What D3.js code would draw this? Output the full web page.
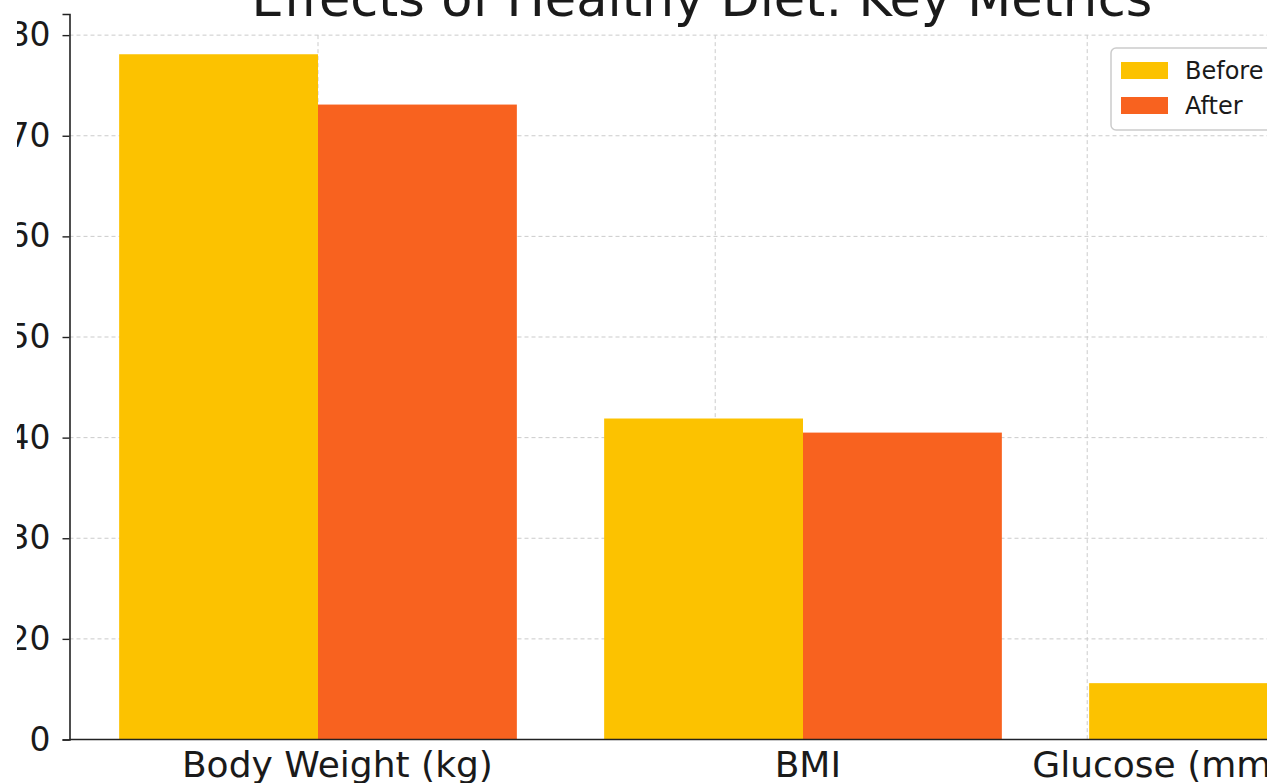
<!DOCTYPE html>
<html>
<head>
<meta charset="utf-8">
<script src="https://cdn.jsdelivr.net/npm/d3@7"></script>
<style>
  body { margin: 0; background: #fff; }
  svg { display: block; font-family: "DejaVu Sans", sans-serif; }
</style>
</head>
<body>
<svg id="chart" width="1267" height="783"></svg>
<script>
// data
var categories = ["Body Weight (kg)", "BMI", "Glucose (mmol/L)"];
var before = [68.1, 31.9, 5.6];
var after = [63.1, 30.5, 5.2];
var tickValues = [0, 10, 20, 30, 40, 50, 60, 70];
var tickLabels = ["0", "20", "30", "40", "50", "60", "70", "80"];
var seriesNames = ["Before", "After"];
var colors = ["#fcc200", "#f8621f"];
// where the vertical grid lines and category labels sit, in category units
var gridX = [0, 0.819, 1.586];
var labelX = [0.04, 1.01, 1.80];

var svg = d3.select("#chart");
var W = 1267, H = 783;

var x = d3.scaleLinear().domain([0, 1]).range([318, 803]);
var y = d3.scaleLinear().domain([0, 72.1]).range([739.5, 14]);
var barW = x(0.41) - x(0);
var left = 69.5;

// the reference is cropped at the left, the first digits are cut
svg.append("defs").append("clipPath").attr("id", "leftcut")
  .append("rect").attr("x", 17).attr("y", 0).attr("width", W).attr("height", H);

// grid
var grid = svg.append("g").attr("stroke", "#cbcbcb").attr("stroke-width", 1)
  .attr("stroke-dasharray", "4,3");
grid.selectAll("line.h").data(tickValues.slice(1)).enter().append("line")
  .attr("x1", left).attr("x2", W)
  .attr("y1", function(d) { return y(d); }).attr("y2", function(d) { return y(d); });
grid.selectAll("line.v").data(gridX).enter().append("line")
  .attr("x1", function(d) { return x(d); }).attr("x2", function(d) { return x(d); })
  .attr("y1", y(70)).attr("y2", y(0));

// bars
var series = [before, after];
series.forEach(function(vals, s) {
  svg.append("g").attr("fill", colors[s])
    .selectAll("rect").data(vals).enter().append("rect")
    .attr("x", function(d, i) { return s === 0 ? x(i) - barW : x(i); })
    .attr("width", barW)
    .attr("y", function(d) { return y(d); })
    .attr("height", function(d) { return y(0) - y(d); });
});

// y axis
var yAxis = d3.axisLeft(y).tickValues(tickValues)
  .tickFormat(function(d, i) { return tickLabels[i]; })
  .tickSize(7).tickPadding(12);
var ya = svg.append("g").attr("clip-path", "url(#leftcut)")
  .append("g").attr("transform", "translate(" + left + ",0)").call(yAxis);
ya.select(".domain").attr("stroke", "#222").attr("stroke-width", 1.6);
ya.selectAll(".tick line").attr("stroke", "#222").attr("stroke-width", 1.4);
ya.selectAll(".tick text").attr("font-size", 33).attr("fill", "#1a1a1a")
  .attr("font-family", "DejaVu Sans");

// x axis line
svg.append("line").attr("x1", left).attr("x2", W)
  .attr("y1", y(0)).attr("y2", y(0))
  .attr("stroke", "#222").attr("stroke-width", 1.6);

// category labels
svg.selectAll("text.cat").data(categories).enter().append("text")
  .attr("class", "cat")
  .attr("x", function(d, i) { return x(labelX[i]); })
  .attr("y", 777)
  .attr("text-anchor", "middle")
  .attr("font-size", 36).attr("fill", "#1a1a1a")
  .text(function(d) { return d; });

// title
svg.append("text").attr("x", 702).attr("y", 16)
  .attr("text-anchor", "middle").attr("font-size", 51).attr("fill", "#1a1a1a")
  .text("Effects of Healthy Diet: Key Metrics");

// legend
var lg = svg.append("g").attr("transform", "translate(1111,48)");
lg.append("rect").attr("width", 200).attr("height", 82).attr("rx", 5)
  .attr("fill", "#fff").attr("fill-opacity", 0.85)
  .attr("stroke", "#cccccc").attr("stroke-width", 1.5);
seriesNames.forEach(function(name, i) {
  lg.append("rect").attr("x", 10).attr("y", 14 + i * 35)
    .attr("width", 47).attr("height", 17).attr("fill", colors[i]);
  lg.append("text").attr("x", 74).attr("y", 31 + i * 35)
    .attr("font-size", 24).attr("fill", "#1a1a1a").text(name);
});
</script>
</body>
</html>
